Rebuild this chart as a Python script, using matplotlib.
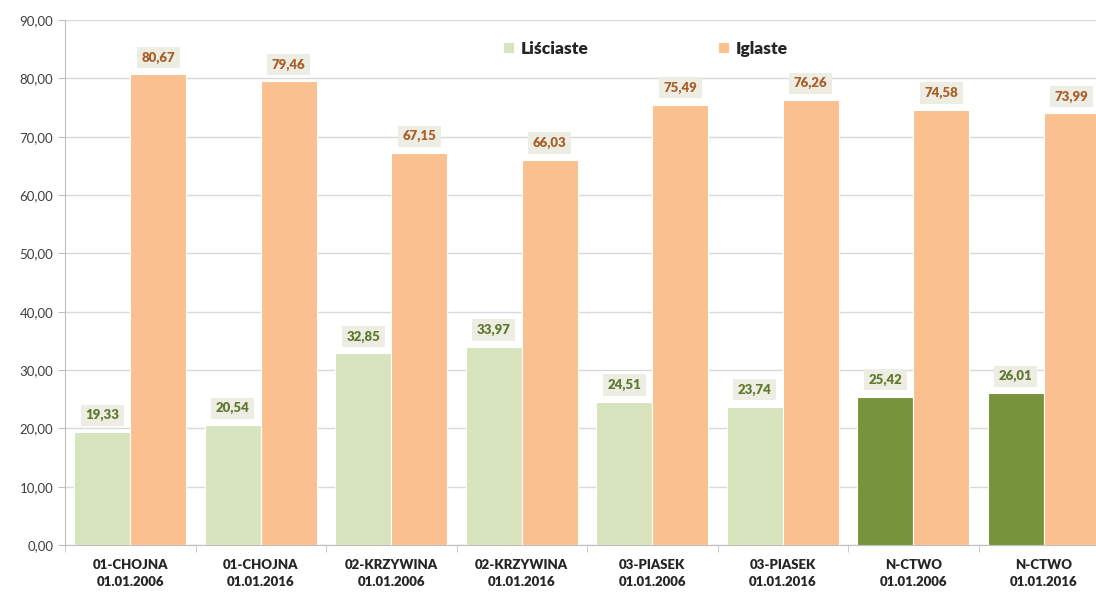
import numpy as np
import matplotlib.pyplot as plt
from matplotlib.ticker import FuncFormatter, MultipleLocator

kategorie = ['01-CHOJNA\n01.01.2006', '01-CHOJNA\n01.01.2016',
             '02-KRZYWINA\n01.01.2006', '02-KRZYWINA\n01.01.2016',
             '03-PIASEK\n01.01.2006', '03-PIASEK\n01.01.2016',
             'N-CTWO\n01.01.2006', 'N-CTWO\n01.01.2016']
lisciaste = [19.33, 20.54, 32.85, 33.97, 24.51, 23.74, 25.42, 26.01]
iglaste = [80.67, 79.46, 67.15, 66.03, 75.49, 76.26, 74.58, 73.99]

plt.rcParams['font.family'] = ['Lato', 'DejaVu Sans']

kolor_lisc = ['#d7e4bd'] * 6 + ['#77933c'] * 2
kolor_igl = '#fac090'

fig = plt.figure(figsize=(10.96, 5.92), dpi=100)
ax = fig.add_axes([65/1096, 1-545/592, 1044/1096, 525/592])

x = np.arange(len(kategorie))
w = 0.43
b1 = ax.bar(x - w/2, lisciaste, w, color=kolor_lisc, edgecolor='white', linewidth=0.8,
            label='Liściaste', zorder=3)
b2 = ax.bar(x + w/2, iglaste, w, color=kolor_igl, edgecolor='white', linewidth=0.8,
            label='Iglaste', zorder=3)

box = dict(boxstyle='square,pad=0.35', fc='#eeede4', ec='none')
for xi, v in zip(x, lisciaste):
    ax.text(xi - w/2, v + 2.9, f'{v:.2f}'.replace('.', ','), ha='center', va='center',
            fontsize=9.5, fontweight='heavy', color='#5f7a2e', bbox=box, zorder=4)
for xi, v in zip(x, iglaste):
    ax.text(xi + w/2, v + 2.9, f'{v:.2f}'.replace('.', ','), ha='center', va='center',
            fontsize=9.5, fontweight='heavy', color='#a8602a', bbox=box, zorder=4)

ax.set_xlim(-0.5, len(kategorie) - 0.5)
ax.set_ylim(0, 90)
ax.yaxis.set_major_locator(MultipleLocator(10))
ax.yaxis.set_major_formatter(FuncFormatter(lambda v, p: f'{v:.2f}'.replace('.', ',')))
ax.grid(axis='y', color='#d9d9d9', linewidth=1, zorder=0)
ax.set_xticks(x)
ax.set_xticklabels(kategorie, fontsize=9.5, fontweight='heavy', color='#262626', linespacing=1.5)
ax.set_xticks(np.arange(len(kategorie) + 1) - 0.5, minor=True)
ax.tick_params(axis='x', which='major', length=0, pad=10)
ax.tick_params(axis='x', which='minor', length=5, color='#bfbfbf')
ax.tick_params(axis='y', length=5, color='#bfbfbf', labelsize=9.5, labelcolor='#404040')
for s in ['top', 'right']:
    ax.spines[s].set_visible(False)
for s in ['left', 'bottom']:
    ax.spines[s].set_color('#bfbfbf')

leg = ax.legend(loc='upper center', bbox_to_anchor=(0.556, 0.99), ncol=2, frameon=False,
                fontsize=12.5, handlelength=0.6, handleheight=0.6, columnspacing=7.5,
                handletextpad=0.4)
for t in leg.get_texts():
    t.set_fontweight('heavy')
    t.set_color('#262626')
leg.legend_handles[0].set_facecolor('#d7e4bd')

fig.savefig('out.png', dpi=100)
